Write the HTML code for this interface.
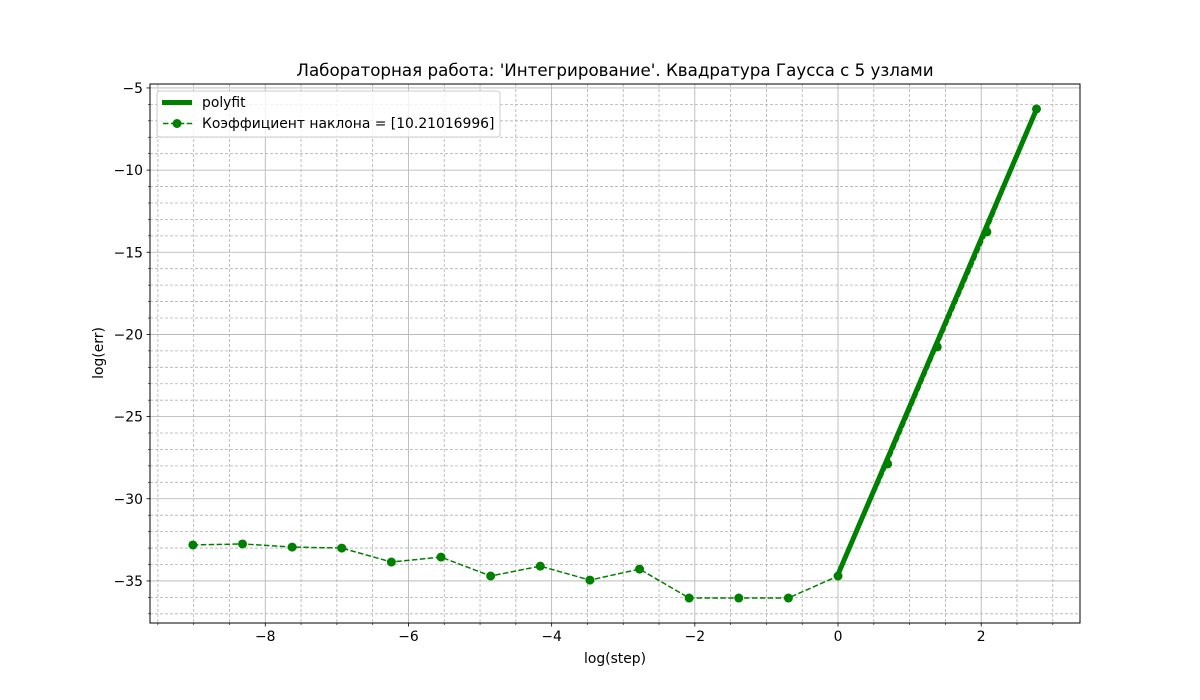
<!DOCTYPE html>
<html><head><meta charset="utf-8"><style>body{margin:0;background:#fff}svg{display:block;font-family:"DejaVu Sans","Liberation Sans",sans-serif}</style></head>
<body>
<svg id="chart" width="1200" height="700" xmlns="http://www.w3.org/2000/svg"></svg>
<script>
const xVals=[-9.0109,-8.3178,-7.6246,-6.9315,-6.2383,-5.5452,-4.8520,-4.1589,-3.4657,-2.7726,-2.0794,-1.3863,-0.6931,0,0.6931,1.3863,2.0794,2.7726];
const yVals=[-32.81,-32.75,-32.94,-33.0,-33.85,-33.55,-34.7,-34.1,-34.95,-34.28,-36.04,-36.04,-36.04,-34.70,-27.88,-20.76,-13.76,-6.28];
const fitX=[0,2.7726];
const fitY=[-34.6,-6.3];
const xTicks=[-8,-6,-4,-2,0,2];
const yTicks=[-35,-30,-25,-20,-15,-10,-5];
const L=150,R=1080,T=84,B=623,xMin=-9.61,xMax=3.38,yMin=-37.56,yMax=-4.76;
const sx=v=>L+(v-xMin)/(xMax-xMin)*(R-L);
const sy=v=>B-(v-yMin)/(yMax-yMin)*(B-T);
const svg=document.getElementById('chart');
const NS='http://www.w3.org/2000/svg';
function mk(t,a,p){const e=document.createElementNS(NS,t);for(const k in a)e.setAttribute(k,a[k]);(p||svg).appendChild(e);return e;}
const fmt=v=>(v<0?'\u2212':'')+Math.abs(v);
for(let v=-9.5;v<=3.01;v+=0.5){if(Math.abs(v%2)<1e-9)continue;const x=sx(v);
const g=mk('line',{x1:x,x2:x,y1:T,y2:B,stroke:'#b0b0b0','stroke-width':0.8,'stroke-dasharray':'3,2'});

const t=mk('line',{x1:x,x2:x,y1:B,y2:B+2,stroke:'#000','stroke-width':0.6});
}
for(let v=-37;v<=-5;v+=1){if(v%5===0)continue;const y=sy(v);
const g=mk('line',{x1:L,x2:R,y1:y,y2:y,stroke:'#b0b0b0','stroke-width':0.8,'stroke-dasharray':'3,2'});

const t=mk('line',{x1:L-2,x2:L,y1:y,y2:y,stroke:'#000','stroke-width':0.6});
}
xTicks.forEach(v=>{const x=sx(v);
const g=mk('line',{x1:x,x2:x,y1:T,y2:B,stroke:'#b0b0b0','stroke-width':0.8});

const t=mk('line',{x1:x,x2:x,y1:B,y2:B+3.5,stroke:'#000','stroke-width':0.8});

const l=mk('text',{x:x,y:B+18,'font-size':13.9,'text-anchor':'middle'});l.textContent=fmt(v);
});
yTicks.forEach(v=>{const y=sy(v);
const g=mk('line',{x1:L,x2:R,y1:y,y2:y,stroke:'#b0b0b0','stroke-width':0.8});

const t=mk('line',{x1:L-3.5,x2:L,y1:y,y2:y,stroke:'#000','stroke-width':0.8});

const l=mk('text',{x:L-7,y:y+5,'font-size':13.9,'text-anchor':'end'});l.textContent=fmt(v);
});
const dl=mk('polyline',{points:xVals.map((x,i)=>sx(x)+','+sy(yVals[i])).join(' '),fill:'none',stroke:'#008000','stroke-width':1.5,'stroke-dasharray':'5.5,2.4'});

xVals.forEach((x,i)=>{const c=mk('circle',{cx:sx(x),cy:sy(yVals[i]),r:4.5,fill:'#008000'});
});
const fl=mk('line',{x1:sx(fitX[0]),y1:sy(fitY[0]),x2:sx(fitX[1]),y2:sy(fitY[1]),stroke:'#008000','stroke-width':5,'stroke-linecap':'square'});

const fr=mk('rect',{x:L,y:T,width:R-L,height:B-T,fill:'none',stroke:'#000','stroke-width':1});

</script>
<svg style="position:absolute;left:0;top:0" width="1200" height="700" xmlns="http://www.w3.org/2000/svg">
<text x="615" y="76" font-size="16.7" text-anchor="middle">Лабораторная работа: 'Интегрирование'. Квадратура Гаусса с 5 узлами</text>
<text x="615" y="663" font-size="13.9" text-anchor="middle">log(step)</text>
<text x="103" y="353" font-size="13.9" text-anchor="middle" transform="rotate(-90 103 353)">log(err)</text>
<g>
<rect x="157" y="91" width="343" height="46" rx="3" fill="#fff" fill-opacity="0.8" stroke="#ccc"/>
<line x1="162" y1="102.5" x2="192" y2="102.5" stroke="#008000" stroke-width="5"/>
<text x="202" y="107" font-size="13.9">polyfit</text>
<line x1="163" y1="123.5" x2="193" y2="123.5" stroke="#008000" stroke-width="1.5" stroke-dasharray="5.5,2.4"/>
<circle cx="177" cy="123.5" r="4.5" fill="#008000"/>
<text x="202" y="128" font-size="13.9">Коэффициент наклона = [10.21016996]</text>
</g>
</svg>
</body></html>
